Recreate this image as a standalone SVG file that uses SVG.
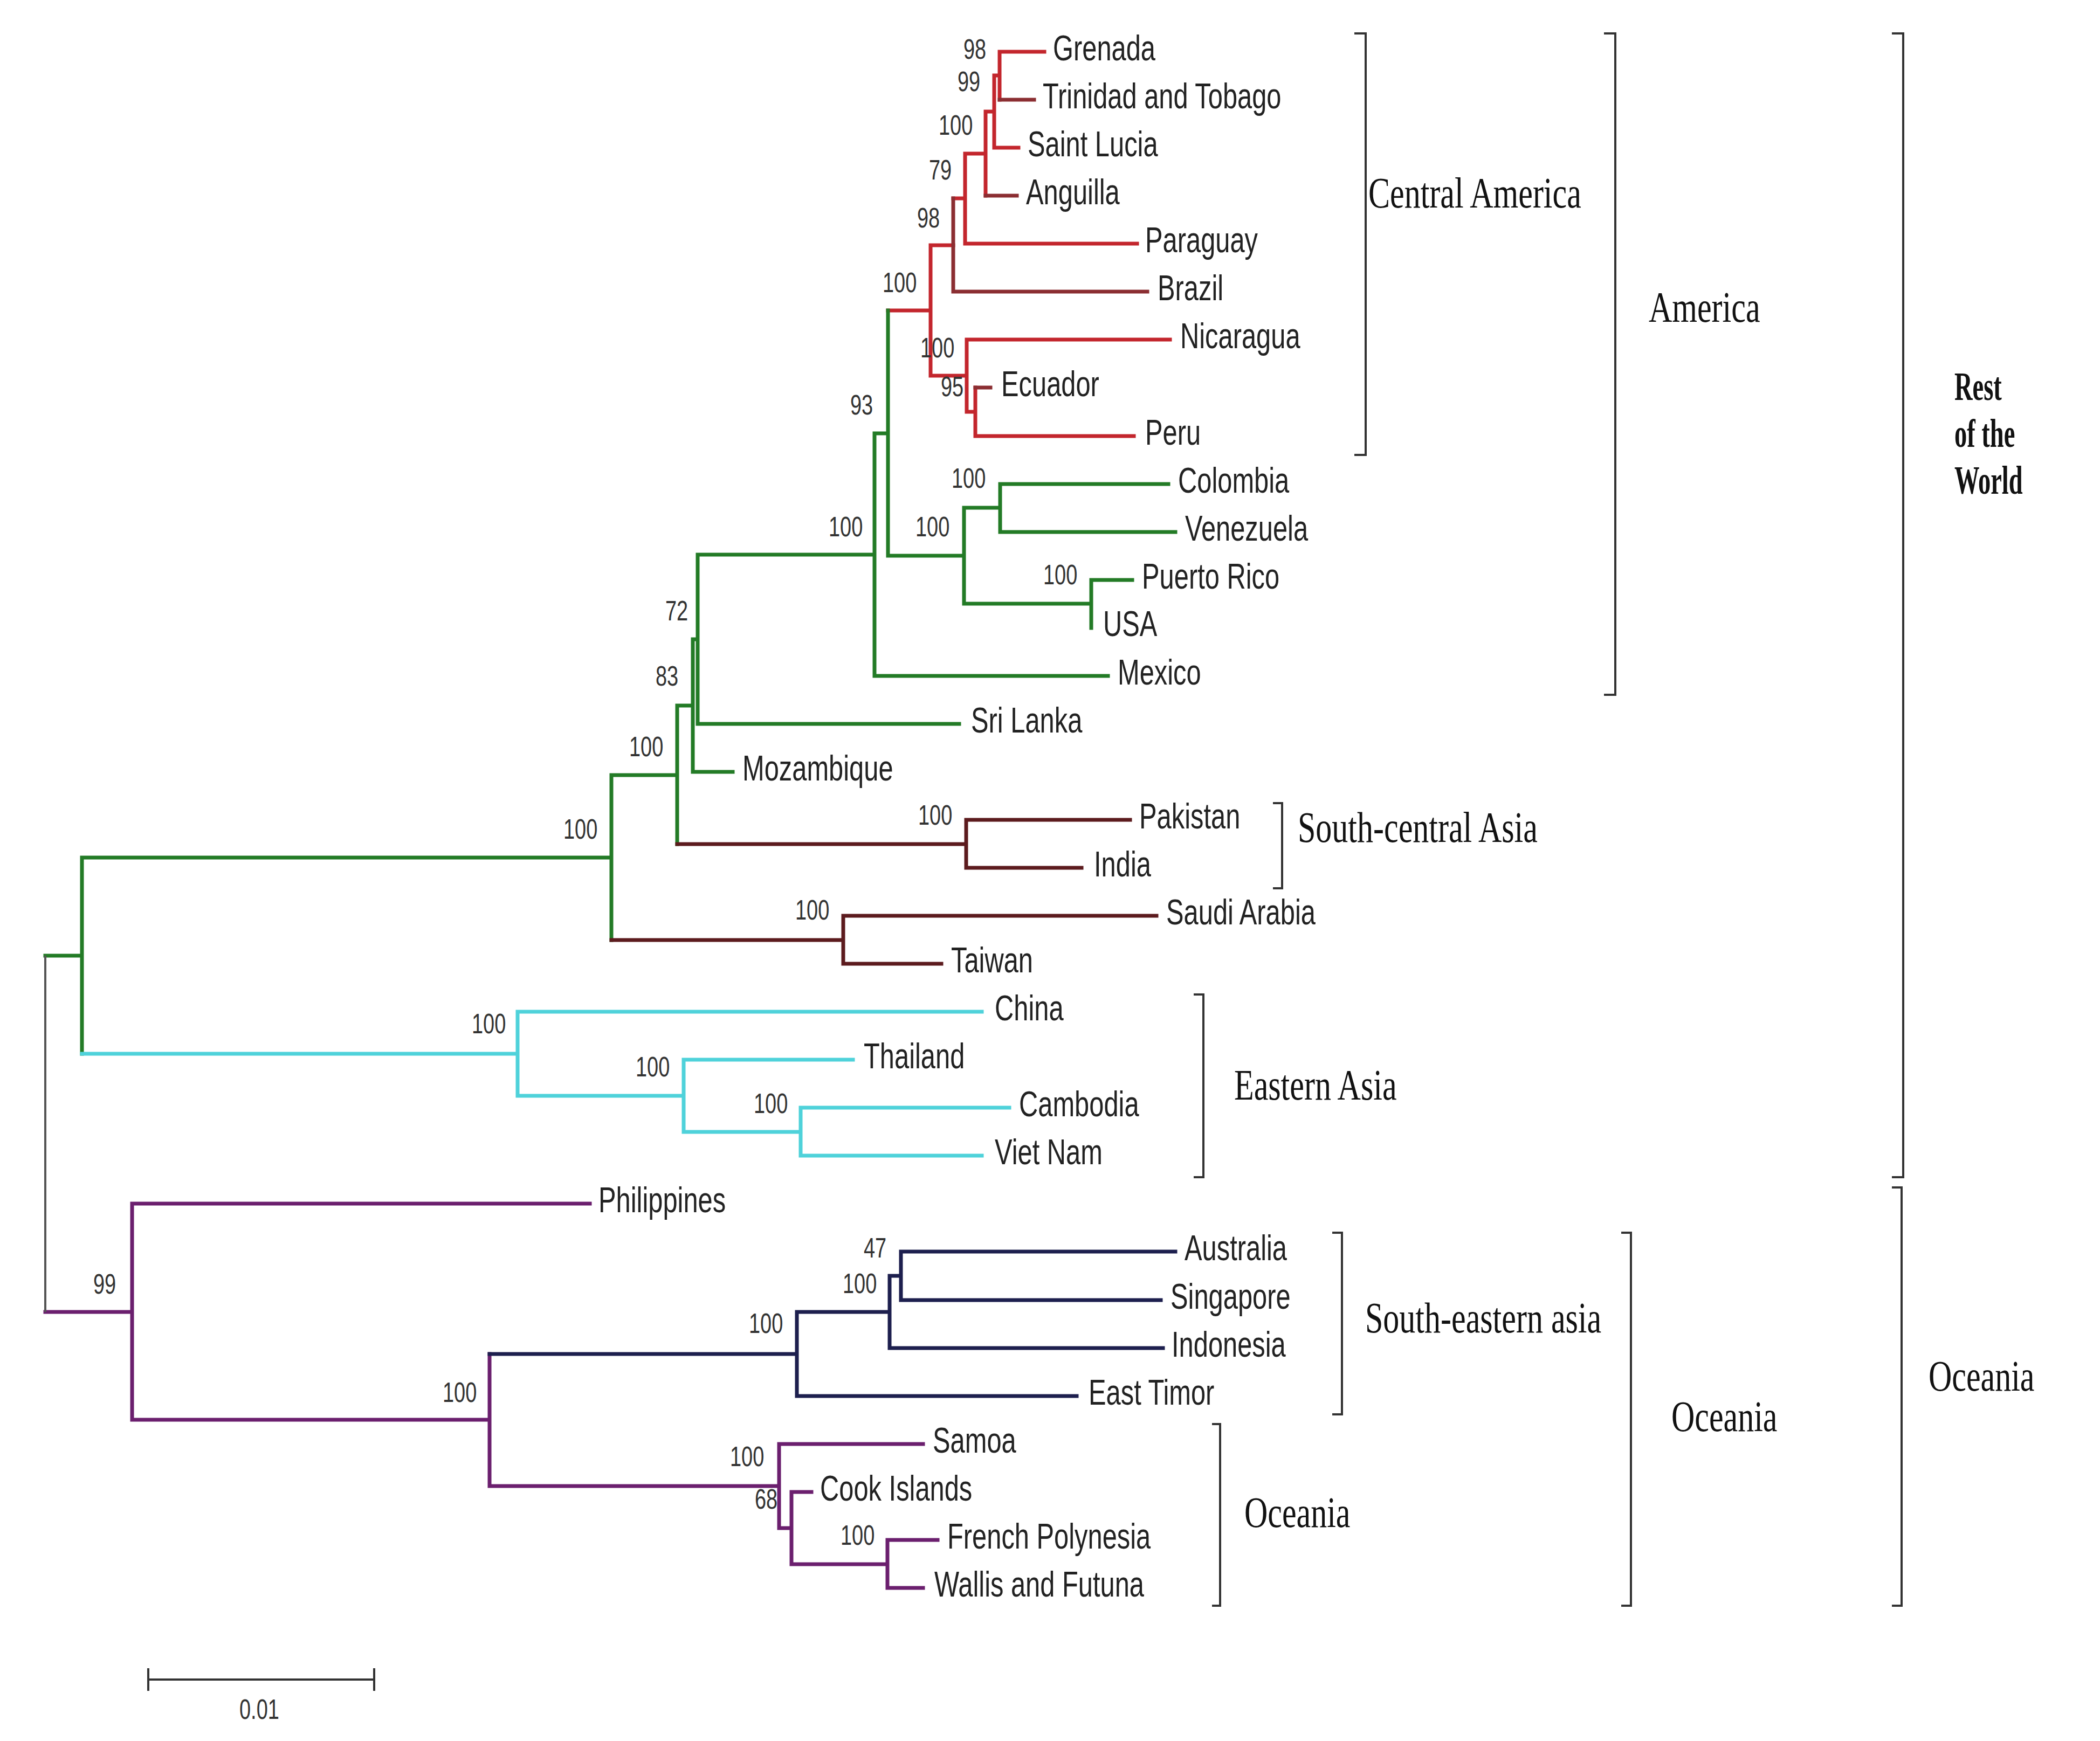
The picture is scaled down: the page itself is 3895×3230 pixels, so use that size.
<svg xmlns="http://www.w3.org/2000/svg" width="3895" height="3230" viewBox="0 0 3895 3230">
<style>
.br{fill:none;stroke-width:7;stroke-linecap:square;stroke-linejoin:miter}
.red{stroke:#c3262d}.dred{stroke:#8b2e32}.grn{stroke:#237b26}.brn{stroke:#5c1b1e}.cyn{stroke:#4fd2da}.pur{stroke:#6b1f6e}.nav{stroke:#1d1f4e}
.root{fill:none;stroke:#555;stroke-width:4}
.bk{fill:none;stroke:#333;stroke-width:4}
.leaf{font-family:"Liberation Sans",Arial,sans-serif;font-size:66px;fill:#222}
.bs{font-family:"Liberation Sans",Arial,sans-serif;font-size:52px;fill:#333}
.grp{font-family:"Liberation Serif","Times New Roman",serif;font-size:80px;fill:#111}
.grpb{font-family:"Liberation Serif","Times New Roman",serif;font-size:75px;font-weight:bold;fill:#111}
</style>
<rect width="3895" height="3230" fill="#fff"/>
<g id="connectors">
<path class="br red" d="M1854,96V185M1854,96H1937M1844,140V274M1844,140H1854M1844,274H1889M1828,207V363M1828,207H1844M1790,285V452M1790,285H1828M1790,452H2109M1768,368H1790M1726,455V697M1726,455H1768M1726,697H1793M1793,630V764M1793,630H2170M1793,764H1809M1809,719V809M1809,809H2103M1647,576H1726"/>
<path class="br dred" d="M1854,185H1918M1828,363H1886M1768,368V541M1768,541H2128M1809,719H1837"/>
<path class="br grn" d="M1647,576V1031M1647,1031H1788M1788,942V1120M1788,942H1855M1855,898V987M1855,898H2167M1855,987H2180M1788,1120H2024M2024,1076V1165M2024,1076H2100M1622,804V1254M1622,804H1647M1622,1254H2055M1294,1029V1343M1294,1029H1622M1294,1343H1779M1285,1186V1432M1285,1186H1294M1285,1432H1359M1256,1309V1566M1256,1309H1285M1134,1438V1744M1134,1438H1256M152,1591V1955M152,1591H1134M84,1773H152"/>
<path class="br brn" d="M1256,1566H1792M1792,1521V1610M1792,1521H2096M1792,1610H2006M1134,1744H1564M1564,1699V1788M1564,1699H2145M1564,1788H1746"/>
<path class="br cyn" d="M152,1955H960M960,1877V2033M960,1877H1821M960,2033H1268M1268,1966V2100M1268,1966H1582M1268,2100H1485M1485,2055V2144M1485,2055H1872M1485,2144H1821"/>
<path class="br pur" d="M84,2434H245M245,2233V2634M245,2233H1094M245,2634H908M908,2512V2757M908,2757H1445M1445,2679V2835M1445,2679H1712M1445,2835H1468M1468,2768V2902M1468,2768H1505M1468,2902H1646M1646,2857V2946M1646,2857H1739M1646,2946H1712"/>
<path class="br nav" d="M908,2512H1478M1478,2434V2590M1478,2434H1650M1650,2367V2501M1650,2367H1671M1671,2322V2412M1671,2322H2180M1671,2412H2153M1650,2501H2157M1478,2590H1997"/>
<path class="root" d="M84,1773V2434"/>
</g>
<g id="leaves">
<g id="leaf-grenada"><text class="leaf" transform="matrix(0.74 0 0 1 1953 112)">Grenada</text></g>
<g id="leaf-trinidad"><text class="leaf" transform="matrix(0.74 0 0 1 1934 201)">Trinidad and Tobago</text></g>
<g id="leaf-saintlucia"><text class="leaf" transform="matrix(0.74 0 0 1 1906 290)">Saint Lucia</text></g>
<g id="leaf-anguilla"><text class="leaf" transform="matrix(0.74 0 0 1 1903 379)">Anguilla</text></g>
<g id="leaf-paraguay"><text class="leaf" transform="matrix(0.74 0 0 1 2124 468)">Paraguay</text></g>
<g id="leaf-brazil"><text class="leaf" transform="matrix(0.74 0 0 1 2147 557)">Brazil</text></g>
<g id="leaf-nicaragua"><text class="leaf" transform="matrix(0.74 0 0 1 2189 646)">Nicaragua</text></g>
<g id="leaf-ecuador"><text class="leaf" transform="matrix(0.74 0 0 1 1857 735)">Ecuador</text></g>
<g id="leaf-peru"><text class="leaf" transform="matrix(0.74 0 0 1 2124 825)">Peru</text></g>
<g id="leaf-colombia"><text class="leaf" transform="matrix(0.74 0 0 1 2185 914)">Colombia</text></g>
<g id="leaf-venezuela"><text class="leaf" transform="matrix(0.74 0 0 1 2198 1003)">Venezuela</text></g>
<g id="leaf-puertorico"><text class="leaf" transform="matrix(0.74 0 0 1 2118 1092)">Puerto Rico</text></g>
<g id="leaf-usa"><text class="leaf" transform="matrix(0.74 0 0 1 2046 1180)">USA</text></g>
<g id="leaf-mexico"><text class="leaf" transform="matrix(0.74 0 0 1 2073 1270)">Mexico</text></g>
<g id="leaf-srilanka"><text class="leaf" transform="matrix(0.74 0 0 1 1801 1359)">Sri Lanka</text></g>
<g id="leaf-mozambique"><text class="leaf" transform="matrix(0.74 0 0 1 1377 1448)">Mozambique</text></g>
<g id="leaf-pakistan"><text class="leaf" transform="matrix(0.74 0 0 1 2113 1537)">Pakistan</text></g>
<g id="leaf-india"><text class="leaf" transform="matrix(0.74 0 0 1 2029 1626)">India</text></g>
<g id="leaf-saudiarabia"><text class="leaf" transform="matrix(0.74 0 0 1 2163 1715)">Saudi Arabia</text></g>
<g id="leaf-taiwan"><text class="leaf" transform="matrix(0.74 0 0 1 1764 1804)">Taiwan</text></g>
<g id="leaf-china"><text class="leaf" transform="matrix(0.74 0 0 1 1845 1893)">China</text></g>
<g id="leaf-thailand"><text class="leaf" transform="matrix(0.74 0 0 1 1602 1982)">Thailand</text></g>
<g id="leaf-cambodia"><text class="leaf" transform="matrix(0.74 0 0 1 1890 2071)">Cambodia</text></g>
<g id="leaf-vietnam"><text class="leaf" transform="matrix(0.74 0 0 1 1845 2160)">Viet Nam</text></g>
<g id="leaf-philippines"><text class="leaf" transform="matrix(0.74 0 0 1 1110 2249)">Philippines</text></g>
<g id="leaf-australia"><text class="leaf" transform="matrix(0.74 0 0 1 2197 2338)">Australia</text></g>
<g id="leaf-singapore"><text class="leaf" transform="matrix(0.74 0 0 1 2171 2428)">Singapore</text></g>
<g id="leaf-indonesia"><text class="leaf" transform="matrix(0.74 0 0 1 2173 2517)">Indonesia</text></g>
<g id="leaf-easttimor"><text class="leaf" transform="matrix(0.74 0 0 1 2019 2606)">East Timor</text></g>
<g id="leaf-samoa"><text class="leaf" transform="matrix(0.74 0 0 1 1730 2695)">Samoa</text></g>
<g id="leaf-cookislands"><text class="leaf" transform="matrix(0.74 0 0 1 1521 2784)">Cook Islands</text></g>
<g id="leaf-frenchpolynesia"><text class="leaf" transform="matrix(0.74 0 0 1 1757 2873)">French Polynesia</text></g>
<g id="leaf-wallisfutuna"><text class="leaf" transform="matrix(0.74 0 0 1 1733 2962)">Wallis and Futuna</text></g>
</g>
<g id="bootstrap">
<text class="bs" transform="matrix(0.73 0 0 1 1787 109)">98</text>
<text class="bs" transform="matrix(0.73 0 0 1 1776 169)">99</text>
<text class="bs" transform="matrix(0.73 0 0 1 1741 250)">100</text>
<text class="bs" transform="matrix(0.73 0 0 1 1723 333)">79</text>
<text class="bs" transform="matrix(0.73 0 0 1 1701 422)">98</text>
<text class="bs" transform="matrix(0.73 0 0 1 1637 542)">100</text>
<text class="bs" transform="matrix(0.73 0 0 1 1707 663)">100</text>
<text class="bs" transform="matrix(0.73 0 0 1 1745 735)">95</text>
<text class="bs" transform="matrix(0.73 0 0 1 1577 769)">93</text>
<text class="bs" transform="matrix(0.73 0 0 1 1765 905)">100</text>
<text class="bs" transform="matrix(0.73 0 0 1 1698 995)">100</text>
<text class="bs" transform="matrix(0.73 0 0 1 1537 995)">100</text>
<text class="bs" transform="matrix(0.73 0 0 1 1935 1084)">100</text>
<text class="bs" transform="matrix(0.73 0 0 1 1234 1151)">72</text>
<text class="bs" transform="matrix(0.73 0 0 1 1216 1272)">83</text>
<text class="bs" transform="matrix(0.73 0 0 1 1167 1403)">100</text>
<text class="bs" transform="matrix(0.73 0 0 1 1703 1530)">100</text>
<text class="bs" transform="matrix(0.73 0 0 1 1045 1556)">100</text>
<text class="bs" transform="matrix(0.73 0 0 1 1475 1706)">100</text>
<text class="bs" transform="matrix(0.73 0 0 1 875 1917)">100</text>
<text class="bs" transform="matrix(0.73 0 0 1 1179 1997)">100</text>
<text class="bs" transform="matrix(0.73 0 0 1 1398 2065)">100</text>
<text class="bs" transform="matrix(0.73 0 0 1 173 2400)">99</text>
<text class="bs" transform="matrix(0.73 0 0 1 1602 2333)">47</text>
<text class="bs" transform="matrix(0.73 0 0 1 1563 2399)">100</text>
<text class="bs" transform="matrix(0.73 0 0 1 1389 2473)">100</text>
<text class="bs" transform="matrix(0.73 0 0 1 821 2601)">100</text>
<text class="bs" transform="matrix(0.73 0 0 1 1354 2720)">100</text>
<text class="bs" transform="matrix(0.73 0 0 1 1400 2799)">68</text>
<text class="bs" transform="matrix(0.73 0 0 1 1559 2866)">100</text>
</g>
<g id="groups">
<g id="grp-central-america"><path class="bk" d="M2512,62H2533V844H2512"/><text class="grp" transform="matrix(0.75 0 0 1 2538 385)">Central America</text></g>
<g id="grp-america"><path class="bk" d="M2975,62H2996V1289H2975"/><text class="grp" transform="matrix(0.75 0 0 1 3058 597)">America</text></g>
<g id="grp-rest"><path class="bk" d="M3509,62H3530V2184H3509"/><text class="grpb" transform="matrix(0.62 0 0 1 3625 742)">Rest</text><text class="grpb" transform="matrix(0.62 0 0 1 3625 829)">of the</text><text class="grpb" transform="matrix(0.62 0 0 1 3625 916)">World</text></g>
<g id="grp-south-central-asia"><path class="bk" d="M2361,1490H2378V1648H2361"/><text class="grp" transform="matrix(0.75 0 0 1 2407 1562)">South-central Asia</text></g>
<g id="grp-eastern-asia"><path class="bk" d="M2214,1845H2232V2184H2214"/><text class="grp" transform="matrix(0.75 0 0 1 2289 2040)">Eastern Asia</text></g>
<g id="grp-south-eastern-asia"><path class="bk" d="M2471,2287H2489V2624H2471"/><text class="grp" transform="matrix(0.75 0 0 1 2532 2472)">South-eastern asia</text></g>
<g id="grp-oceania-small"><path class="bk" d="M2248,2642H2263V2979H2248"/><text class="grp" transform="matrix(0.75 0 0 1 2308 2833)">Oceania</text></g>
<g id="grp-oceania-mid"><path class="bk" d="M3007,2287H3025V2979H3007"/><text class="grp" transform="matrix(0.75 0 0 1 3100 2655)">Oceania</text></g>
<g id="grp-oceania-right"><path class="bk" d="M3509,2203H3527V2979H3509"/><text class="grp" transform="matrix(0.75 0 0 1 3577 2580)">Oceania</text></g>
</g>
<g id="scalebar">
<path class="bk" d="M275,3116H694M275,3095V3137M694,3095V3137"/>
<text class="bs" transform="matrix(0.73 0 0 1 444 3189)">0.01</text>
</g>
</svg>
